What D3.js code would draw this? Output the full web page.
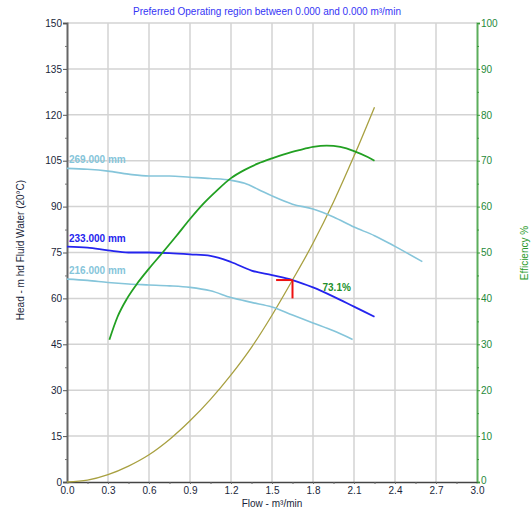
<!DOCTYPE html>
<html><head><meta charset="utf-8">
<script src="https://cdn.jsdelivr.net/npm/d3@7"></script>
<style>body{margin:0;background:#fff;font-family:"Liberation Sans",Arial,sans-serif;}</style>
</head><body><div id="chart"></div>
<script>
const flowTicks = [0,0.3,0.6,0.9,1.2,1.5,1.8,2.1,2.4,2.7,3.0];
const headTicks = [0,15,30,45,60,75,90,105,120,135,150];
const effTicks = [0,10,20,30,40,50,60,70,80,90,100];

const flow269 = [0,0.15,0.3,0.45,0.6,0.75,0.9,1.05,1.2,1.3,1.4,1.5,1.65,1.8,1.95,2.1,2.25,2.4,2.6];
const head269 = [102.5,102.2,101.6,100.6,100,100,99.6,99.2,98.6,97.6,95.6,93.5,90.8,89.2,86.6,83.3,80.5,77,72];
const flow233 = [0,0.15,0.3,0.45,0.6,0.75,0.9,1.05,1.2,1.35,1.5,1.65,1.8,1.95,2.1,2.25];
const head233 = [76.9,76.6,75.7,75,75,74.8,74.4,73.9,71.9,69.1,67.6,66,63.6,60.6,57.3,54];
const flow216 = [0,0.15,0.3,0.45,0.6,0.75,0.9,1.05,1.2,1.35,1.5,1.65,1.8,1.95,2.09];
const head216 = [66.3,65.9,65.2,64.7,64.4,64.1,63.6,62.5,60.3,58.7,57.2,54.6,52,49.4,46.6];
const flowEff = [0.31,0.37,0.44,0.52,0.6,0.7,0.8,0.9,1.0,1.1,1.2,1.3,1.4,1.5,1.6,1.7,1.8,1.9,2.0,2.1,2.2,2.25];
const effVals = [31,36,40,43.5,46.5,50,53.6,57.3,60.7,63.6,66.2,68,69.4,70.5,71.5,72.3,73,73.3,73.0,72.1,70.8,70];
const flowSys = [0,0.15,0.3,0.45,0.6,0.75,0.9,1.05,1.2,1.35,1.5,1.65,1.8,1.95,2.1,2.25];
const headSys = [0,0.6,2.4,5.2,8.9,13.9,20,27,35,44,54.5,66,78,91.5,106.5,122.5];
const impellerLabels = ["269.000 mm","233.000 mm","216.000 mm"];
const bep = {flow:1.65, head:66, headLow:60, flowLeft:1.53, eff:"73.1%"};

const W=532,H=508;
const m={l:67,r:55,t:23,b:26};
const svg=d3.select("#chart").append("svg").attr("width",W).attr("height",H);
const x=d3.scaleLinear().domain([0,3]).range([m.l,W-m.r]);
const y=d3.scaleLinear().domain([0,150]).range([H-m.b,m.t]);
const y2=d3.scaleLinear().domain([0,100]).range([H-m.b,m.t]);

// grid
const g=svg.append("g");
g.selectAll(".vg").data(flowTicks.slice(1,-1)).enter().append("line")
 .attr("x1",d=>x(d)).attr("x2",d=>x(d)).attr("y1",y(0)).attr("y2",y(150))
 .attr("stroke","#d3d3d3").attr("stroke-width",1.5);
g.selectAll(".hg").data(headTicks.slice(1)).enter().append("line")
 .attr("x1",x(0)).attr("x2",x(3)).attr("y1",d=>y(d)).attr("y2",d=>y(d))
 .attr("stroke","#d3d3d3").attr("stroke-width",1.5);

const tickFont="10px";
// left axis
const la=svg.append("g").attr("transform",`translate(${x(0)},0)`)
 .call(d3.axisLeft(y).tickValues(headTicks).tickSize(4).tickPadding(1).tickFormat(d3.format("d")));
la.select(".domain").attr("stroke","#666").attr("stroke-width",2);
la.selectAll("line").attr("stroke","#555");
la.selectAll("text").attr("fill","#1a1f3a").style("font-size",tickFont).style("font-family","Liberation Sans, Arial");
svg.append("g").attr("transform",`translate(${x(0)},0)`)
 .call(d3.axisLeft(y).tickValues(d3.range(7.5,150,15)).tickSize(2).tickFormat(""))
 .call(s=>s.select(".domain").remove()).selectAll("line").attr("stroke","#777");

// right axis
const ra=svg.append("g").attr("transform",`translate(${x(3)},0)`)
 .call(d3.axisRight(y2).tickValues(effTicks).tickSize(3).tickPadding(1).tickFormat(d3.format("d")));
ra.select(".domain").attr("stroke","#5cae5c").attr("stroke-width",2);
ra.selectAll("line").attr("stroke","#3a9a3a");
ra.selectAll("text").attr("fill","#1f8a3a").style("font-size",tickFont).style("font-family","Liberation Sans, Arial");
ra.selectAll(".tick").filter(d=>d===0).select("text").attr("dy","0.1em");
svg.append("g").attr("transform",`translate(${x(3)},0)`)
 .call(d3.axisRight(y2).tickValues(d3.range(5,100,10)).tickSize(2).tickFormat(""))
 .call(s=>s.select(".domain").remove()).selectAll("line").attr("stroke","#3a9a3a");

// bottom axis
const ba=svg.append("g").attr("transform",`translate(0,${y(0)})`)
 .call(d3.axisBottom(x).tickValues(flowTicks).tickSize(0).tickPadding(5).tickFormat(d3.format(".1f")));
ba.select(".domain").attr("stroke","#444").attr("stroke-width",1.5);
ba.selectAll("text").attr("fill","#1a1f3a").style("font-size",tickFont).style("font-family","Liberation Sans, Arial");
svg.append("g").attr("transform",`translate(0,${y(0)})`)
 .call(d3.axisBottom(x).tickValues(d3.range(0.15,3,0.15)).tickSize(2).tickFormat(""))
 .call(s=>s.select(".domain").remove()).selectAll("line").attr("stroke","#666");

// titles
svg.append("text").attr("x",267).attr("y",15).attr("text-anchor","middle")
 .attr("fill","#3535f5").style("font-size","10px").text("Preferred Operating region between 0.000 and 0.000 m³/min");
svg.append("text").attr("transform","translate(24,250) rotate(-90)").attr("text-anchor","middle")
 .attr("fill","#1a1f3a").style("font-size","10px").text("Head - m hd Fluid Water (20°C)");
svg.append("text").attr("transform","translate(528,253) rotate(-90)").attr("text-anchor","middle")
 .attr("fill","#2a9a2a").style("font-size","10px").text("Efficiency %");
svg.append("text").attr("x",272).attr("y",507).attr("text-anchor","middle")
 .attr("fill","#1a1f3a").style("font-size","10px").text("Flow - m³/min");

const line=(xs,ys,ys2)=>d3.line().curve(d3.curveMonotoneX).x((d,i)=>x(xs[i])).y(d=>ys2?y2(d):y(d))(ys);

// system curve
svg.append("path").attr("d",line(flowSys,headSys)).attr("fill","none").attr("stroke","#a8a040").attr("stroke-width",1.3);
// impeller curves
svg.append("path").attr("d",line(flow269,head269)).attr("fill","none").attr("stroke","#85c5da").attr("stroke-width",1.6);
svg.append("path").attr("d",line(flow216,head216)).attr("fill","none").attr("stroke","#85c5da").attr("stroke-width",1.6);
svg.append("path").attr("d",line(flow233,head233)).attr("fill","none").attr("stroke","#2424ee").attr("stroke-width",1.8);
// efficiency
svg.append("path").attr("d",line(flowEff,effVals,true)).attr("fill","none").attr("stroke","#22a022").attr("stroke-width",1.8);

// labels
const labelData=[[impellerLabels[0],head269[0],"#85c5da"],[impellerLabels[1],head233[0],"#2424ee"],[impellerLabels[2],head216[0],"#85c5da"]];
svg.selectAll(".il").data(labelData).enter().append("text")
 .attr("x",x(0)+2).attr("y",d=>y(d[1])-5).attr("fill",d=>d[2])
 .style("font-size","10px").style("font-weight","bold").text(d=>d[0]);

// BEP marker
svg.append("line").attr("x1",x(bep.flowLeft)).attr("x2",x(bep.flow)).attr("y1",y(bep.head)).attr("y2",y(bep.head))
 .attr("stroke","#ee1111").attr("stroke-width",2);
svg.append("line").attr("x1",x(bep.flow)).attr("x2",x(bep.flow)).attr("y1",y(bep.head)).attr("y2",y(bep.headLow))
 .attr("stroke","#ee1111").attr("stroke-width",2);
svg.append("text").attr("x",x(bep.flow)+30).attr("y",y(bep.head)+11).attr("fill","#22902a")
 .style("font-size","10px").style("font-weight","bold").text(bep.eff);
</script></body></html>
